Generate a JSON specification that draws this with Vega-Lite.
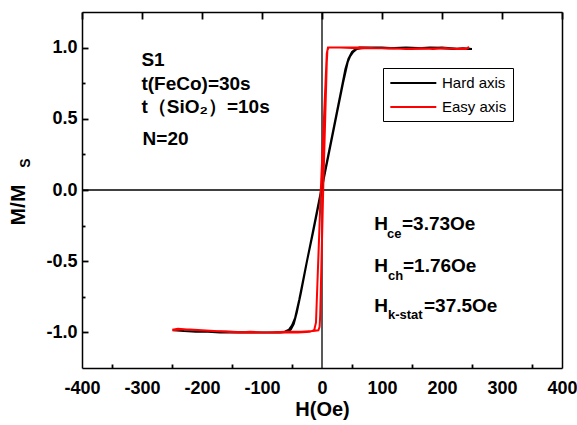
{
  "$schema": "https://vega.github.io/schema/vega-lite/v6.json",
  "width": 480,
  "height": 356,
  "autosize": {"type": "none"},
  "padding": {"left": 82, "top": 12, "right": 15, "bottom": 57},
  "background": "white",
  "config": {
    "view": {"stroke": null, "fill": null},
    "font": "Liberation Sans"
  },
  "resolve": {"axis": {"x": "independent", "y": "independent"}},
  "layer": [
    {
      "data": {"values": [{}]},
      "mark": {"type": "rule", "color": "black", "strokeWidth": 1.3},
      "encoding": {
        "x": {"datum": 0, "type": "quantitative",
          "scale": {"domain": [-400, 400], "nice": false, "zero": false},
          "axis": {"orient": "bottom", "values": [-350, -250, -150, -50, 50, 150, 250, 350], "labels": false, "ticks": false, "domain": false,
            "grid": true, "gridColor": "black", "gridOpacity": 1, "gridWidth": 1.8, "gridDash": [4, 1000], "title": null}
        }
      }
    },
    {
      "data": {"values": [{}]},
      "mark": {"type": "rule", "color": "black", "strokeWidth": 1.3},
      "encoding": {
        "y": {"datum": 0, "type": "quantitative",
          "scale": {"domain": [-1.25, 1.25], "nice": false, "zero": false},
          "axis": {"orient": "left", "values": [-0.75, -0.25, 0.25, 0.75], "labels": false, "ticks": false, "domain": false,
            "grid": true, "gridColor": "black", "gridOpacity": 1, "gridWidth": 1.8, "gridDash": [3, 1000],
            "title": "S", "titleFont": "Liberation Sans", "titleFontWeight": "bold", "titleFontSize": 14, "titleColor": "black",
            "titleX": -53, "titleY": 150.5, "titleAngle": 270, "titleBaseline": "alphabetic", "titleAlign": "center"}
        }
      }
    },
    {
      "data": {"values": [
        {"s": "Hard axis", "i": 0, "h": 250, "m": 0.99},
        {"s": "Hard axis", "i": 1, "h": 235, "m": 0.995},
        {"s": "Hard axis", "i": 2, "h": 220, "m": 0.99},
        {"s": "Hard axis", "i": 3, "h": 200, "m": 0.995},
        {"s": "Hard axis", "i": 4, "h": 180, "m": 1.0},
        {"s": "Hard axis", "i": 5, "h": 160, "m": 0.995},
        {"s": "Hard axis", "i": 6, "h": 140, "m": 1.0},
        {"s": "Hard axis", "i": 7, "h": 120, "m": 0.995},
        {"s": "Hard axis", "i": 8, "h": 100, "m": 1.0},
        {"s": "Hard axis", "i": 9, "h": 80, "m": 1.0},
        {"s": "Hard axis", "i": 10, "h": 65, "m": 0.995},
        {"s": "Hard axis", "i": 11, "h": 58, "m": 0.99},
        {"s": "Hard axis", "i": 12, "h": 52, "m": 0.97},
        {"s": "Hard axis", "i": 13, "h": 47, "m": 0.94},
        {"s": "Hard axis", "i": 14, "h": 43, "m": 0.9},
        {"s": "Hard axis", "i": 15, "h": 35, "m": 0.75},
        {"s": "Hard axis", "i": 16, "h": 25, "m": 0.54},
        {"s": "Hard axis", "i": 17, "h": 15, "m": 0.33},
        {"s": "Hard axis", "i": 18, "h": 5, "m": 0.12},
        {"s": "Hard axis", "i": 19, "h": -5, "m": -0.09},
        {"s": "Hard axis", "i": 20, "h": -15, "m": -0.3},
        {"s": "Hard axis", "i": 21, "h": -25, "m": -0.5},
        {"s": "Hard axis", "i": 22, "h": -35, "m": -0.72},
        {"s": "Hard axis", "i": 23, "h": -42, "m": -0.86},
        {"s": "Hard axis", "i": 24, "h": -47, "m": -0.94},
        {"s": "Hard axis", "i": 25, "h": -52, "m": -0.98},
        {"s": "Hard axis", "i": 26, "h": -58, "m": -0.995},
        {"s": "Hard axis", "i": 27, "h": -70, "m": -1.0},
        {"s": "Hard axis", "i": 28, "h": -90, "m": -1.0},
        {"s": "Hard axis", "i": 29, "h": -110, "m": -1.0},
        {"s": "Hard axis", "i": 30, "h": -130, "m": -1.0},
        {"s": "Hard axis", "i": 31, "h": -150, "m": -1.0},
        {"s": "Hard axis", "i": 32, "h": -170, "m": -1.0},
        {"s": "Hard axis", "i": 33, "h": -190, "m": -0.995},
        {"s": "Hard axis", "i": 34, "h": -210, "m": -0.995},
        {"s": "Hard axis", "i": 35, "h": -230, "m": -0.99},
        {"s": "Hard axis", "i": 36, "h": -248, "m": -0.985},
        {"s": "Hard axis", "i": 37, "h": -230, "m": -0.99},
        {"s": "Hard axis", "i": 38, "h": -200, "m": -0.995},
        {"s": "Hard axis", "i": 39, "h": -160, "m": -0.995},
        {"s": "Hard axis", "i": 40, "h": -120, "m": -1.0},
        {"s": "Hard axis", "i": 41, "h": -80, "m": -1.0},
        {"s": "Hard axis", "i": 42, "h": -62, "m": -0.995},
        {"s": "Hard axis", "i": 43, "h": -55, "m": -0.98},
        {"s": "Hard axis", "i": 44, "h": -50, "m": -0.95},
        {"s": "Hard axis", "i": 45, "h": -45, "m": -0.9},
        {"s": "Hard axis", "i": 46, "h": -38, "m": -0.77},
        {"s": "Hard axis", "i": 47, "h": -28, "m": -0.56},
        {"s": "Hard axis", "i": 48, "h": -18, "m": -0.35},
        {"s": "Hard axis", "i": 49, "h": -8, "m": -0.14},
        {"s": "Hard axis", "i": 50, "h": 2, "m": 0.07},
        {"s": "Hard axis", "i": 51, "h": 12, "m": 0.28},
        {"s": "Hard axis", "i": 52, "h": 22, "m": 0.49},
        {"s": "Hard axis", "i": 53, "h": 32, "m": 0.7},
        {"s": "Hard axis", "i": 54, "h": 39, "m": 0.85},
        {"s": "Hard axis", "i": 55, "h": 44, "m": 0.92},
        {"s": "Hard axis", "i": 56, "h": 50, "m": 0.97},
        {"s": "Hard axis", "i": 57, "h": 56, "m": 0.99},
        {"s": "Hard axis", "i": 58, "h": 62, "m": 1.0},
        {"s": "Hard axis", "i": 59, "h": 80, "m": 1.0},
        {"s": "Hard axis", "i": 60, "h": 110, "m": 0.995},
        {"s": "Hard axis", "i": 61, "h": 140, "m": 1.0},
        {"s": "Hard axis", "i": 62, "h": 170, "m": 0.995},
        {"s": "Hard axis", "i": 63, "h": 200, "m": 1.0},
        {"s": "Hard axis", "i": 64, "h": 230, "m": 0.99},
        {"s": "Hard axis", "i": 65, "h": 250, "m": 0.99},
        {"s": "Easy axis", "i": 0, "h": 245, "m": 1.005},
        {"s": "Easy axis", "i": 1, "h": 242, "m": 0.995},
        {"s": "Easy axis", "i": 2, "h": 225, "m": 0.99},
        {"s": "Easy axis", "i": 3, "h": 205, "m": 0.995},
        {"s": "Easy axis", "i": 4, "h": 185, "m": 0.99},
        {"s": "Easy axis", "i": 5, "h": 165, "m": 0.995},
        {"s": "Easy axis", "i": 6, "h": 140, "m": 0.99},
        {"s": "Easy axis", "i": 7, "h": 115, "m": 0.995},
        {"s": "Easy axis", "i": 8, "h": 90, "m": 0.995},
        {"s": "Easy axis", "i": 9, "h": 65, "m": 1.0},
        {"s": "Easy axis", "i": 10, "h": 40, "m": 1.0},
        {"s": "Easy axis", "i": 11, "h": 20, "m": 1.0},
        {"s": "Easy axis", "i": 12, "h": 10, "m": 1.0},
        {"s": "Easy axis", "i": 13, "h": 8, "m": 0.96},
        {"s": "Easy axis", "i": 14, "h": -2, "m": 0.0},
        {"s": "Easy axis", "i": 15, "h": -10, "m": -0.93},
        {"s": "Easy axis", "i": 16, "h": -13, "m": -0.985},
        {"s": "Easy axis", "i": 17, "h": -20, "m": -0.995},
        {"s": "Easy axis", "i": 18, "h": -40, "m": -1.0},
        {"s": "Easy axis", "i": 19, "h": -60, "m": -1.0},
        {"s": "Easy axis", "i": 20, "h": -80, "m": -1.0},
        {"s": "Easy axis", "i": 21, "h": -100, "m": -1.0},
        {"s": "Easy axis", "i": 22, "h": -120, "m": -0.995},
        {"s": "Easy axis", "i": 23, "h": -140, "m": -1.0},
        {"s": "Easy axis", "i": 24, "h": -160, "m": -0.995},
        {"s": "Easy axis", "i": 25, "h": -180, "m": -0.99},
        {"s": "Easy axis", "i": 26, "h": -200, "m": -0.985},
        {"s": "Easy axis", "i": 27, "h": -220, "m": -0.98},
        {"s": "Easy axis", "i": 28, "h": -235, "m": -0.98},
        {"s": "Easy axis", "i": 29, "h": -248, "m": -0.985},
        {"s": "Easy axis", "i": 30, "h": -248, "m": -0.98},
        {"s": "Easy axis", "i": 31, "h": -240, "m": -0.975},
        {"s": "Easy axis", "i": 32, "h": -225, "m": -0.98},
        {"s": "Easy axis", "i": 33, "h": -205, "m": -0.985},
        {"s": "Easy axis", "i": 34, "h": -180, "m": -0.99},
        {"s": "Easy axis", "i": 35, "h": -150, "m": -0.995},
        {"s": "Easy axis", "i": 36, "h": -120, "m": -1.0},
        {"s": "Easy axis", "i": 37, "h": -90, "m": -1.0},
        {"s": "Easy axis", "i": 38, "h": -60, "m": -0.995},
        {"s": "Easy axis", "i": 39, "h": -35, "m": -0.995},
        {"s": "Easy axis", "i": 40, "h": -15, "m": -0.99},
        {"s": "Easy axis", "i": 41, "h": -6, "m": -0.985},
        {"s": "Easy axis", "i": 42, "h": -4, "m": -0.96},
        {"s": "Easy axis", "i": 43, "h": -3, "m": -0.88},
        {"s": "Easy axis", "i": 44, "h": 2, "m": 0.0},
        {"s": "Easy axis", "i": 45, "h": 8, "m": 0.9},
        {"s": "Easy axis", "i": 46, "h": 9, "m": 0.98},
        {"s": "Easy axis", "i": 47, "h": 11, "m": 1.0},
        {"s": "Easy axis", "i": 48, "h": 30, "m": 1.0},
        {"s": "Easy axis", "i": 49, "h": 60, "m": 0.995},
        {"s": "Easy axis", "i": 50, "h": 100, "m": 0.995},
        {"s": "Easy axis", "i": 51, "h": 150, "m": 0.99},
        {"s": "Easy axis", "i": 52, "h": 200, "m": 0.995},
        {"s": "Easy axis", "i": 53, "h": 240, "m": 0.99},
        {"s": "Easy axis", "i": 54, "h": 245, "m": 1.0}
      ]},
      "mark": {"type": "line", "strokeWidth": 2},
      "encoding": {
        "x": {"field": "h", "type": "quantitative",
          "scale": {"domain": [-400, 400], "nice": false, "zero": false},
          "axis": {"orient": "bottom", "values": [-400, -300, -200, -100, 0, 100, 200, 300, 400],
            "labelExpr": "'' + datum.value",
            "labelFont": "Liberation Sans", "labelFontWeight": "bold", "labelFontSize": 18, "labelColor": "black",
            "labelPadding": 11, "labelFlush": false, "labelOverlap": false,
            "ticks": true, "tickSize": 0, "domain": false,
            "grid": true, "gridColor": "black", "gridOpacity": 1, "gridWidth": 1.8, "gridDash": [7, 1000],
            "title": "H(Oe)", "titleFont": "Liberation Sans", "titleFontWeight": "bold", "titleFontSize": 20, "titleColor": "black",
            "titleX": 240, "titleY": 47, "titleBaseline": "alphabetic", "titleAlign": "center"}
        },
        "y": {"field": "m", "type": "quantitative",
          "scale": {"domain": [-1.25, 1.25], "nice": false, "zero": false},
          "axis": {"orient": "left", "values": [-1, -0.5, 0, 0.5, 1],
            "labelExpr": "replace(format(datum.value, '.1f'), '\u2212', '-')",
            "labelFont": "Liberation Sans", "labelFontWeight": "bold", "labelFontSize": 18, "labelColor": "black",
            "labelPadding": 5, "labelFlush": false, "labelOverlap": false,
            "ticks": true, "tickSize": 0, "domain": false,
            "grid": true, "gridColor": "black", "gridOpacity": 1, "gridWidth": 1.8, "gridDash": [6, 1000],
            "title": "M/M", "titleFont": "Liberation Sans", "titleFontWeight": "bold", "titleFontSize": 21, "titleColor": "black",
            "titleX": -58, "titleY": 192.5, "titleAngle": 270, "titleBaseline": "alphabetic", "titleAlign": "center"}
        },
        "color": {"field": "s", "type": "nominal",
          "scale": {"domain": ["Hard axis", "Easy axis"], "range": ["#000000", "#ff0000"]},
          "legend": {"orient": "none", "legendX": 301, "legendY": 56, "title": null,
            "strokeColor": "black", "padding": 6, "fillColor": "white",
            "symbolType": "M-1,0H5", "symbolSize": 235, "symbolStrokeWidth": 2,
            "labelFont": "Liberation Sans", "labelFontSize": 15, "labelColor": "black",
            "labelOffset": 35, "rowPadding": 7}
        },
        "order": {"field": "i", "type": "quantitative"}
      }
    },
    {
      "data": {"values": [
        {"x": -301, "y": 0.871, "t": "S1"},
        {"x": -301, "y": 0.702, "t": "t(FeCo)=30s"},
        {"x": -301, "y": 0.541, "t": "t（SiO₂）=10s"},
        {"x": -299, "y": 0.316, "t": "N=20"},
        {"x": 87, "y": -0.281, "t": "H"},
        {"x": 133.3, "y": -0.281, "t": "=3.73Oe"},
        {"x": 87, "y": -0.574, "t": "H"},
        {"x": 135, "y": -0.574, "t": "=1.76Oe"},
        {"x": 87, "y": -0.855, "t": "H"},
        {"x": 170, "y": -0.855, "t": "=37.5Oe"}
      ]},
      "mark": {"type": "text", "font": "Liberation Sans", "fontWeight": "bold", "fontSize": 19, "align": "left", "baseline": "alphabetic", "color": "black"},
      "encoding": {
        "x": {"field": "x", "type": "quantitative", "scale": {"domain": [-400, 400], "nice": false, "zero": false},
          "axis": {"orient": "top", "domain": true, "domainColor": "black", "domainWidth": 1.5, "ticks": false, "labels": false, "grid": false, "title": null}},
        "y": {"field": "y", "type": "quantitative", "scale": {"domain": [-1.25, 1.25], "nice": false, "zero": false},
          "axis": {"orient": "right", "domain": true, "domainColor": "black", "domainWidth": 1.5, "ticks": false, "labels": false, "grid": false, "title": null}},
        "text": {"field": "t"}
      }
    },
    {
      "data": {"values": [
        {"x": 108.3, "y": -0.337, "t": "ce"},
        {"x": 110, "y": -0.632, "t": "ch"},
        {"x": 110, "y": -0.906, "t": "k-stat"}
      ]},
      "mark": {"type": "text", "font": "Liberation Sans", "fontWeight": "bold", "fontSize": 13, "align": "left", "baseline": "alphabetic", "color": "black"},
      "encoding": {
        "x": {"field": "x", "type": "quantitative", "scale": {"domain": [-400, 400], "nice": false, "zero": false},
          "axis": {"orient": "bottom", "domain": true, "domainColor": "black", "domainWidth": 1.5, "ticks": false, "labels": false, "grid": false, "title": null}},
        "y": {"field": "y", "type": "quantitative", "scale": {"domain": [-1.25, 1.25], "nice": false, "zero": false},
          "axis": {"orient": "left", "domain": true, "domainColor": "black", "domainWidth": 1.5, "ticks": false, "labels": false, "grid": false, "title": null}},
        "text": {"field": "t"}
      }
    }
  ]
}
